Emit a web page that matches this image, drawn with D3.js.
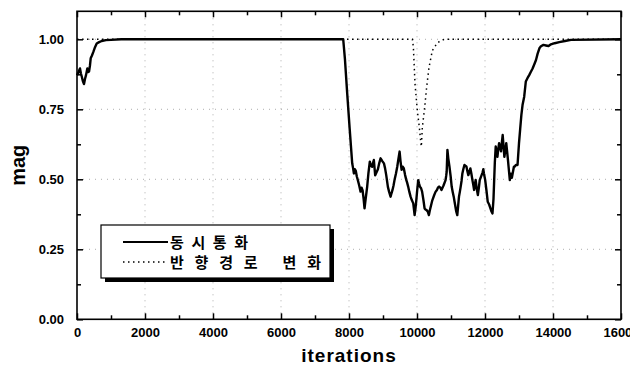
<!DOCTYPE html>
<html><head><meta charset="utf-8">
<script src="https://cdn.jsdelivr.net/npm/d3@7"></script>
<style>body{margin:0;background:#fff}svg{display:block}</style>
</head><body>
<svg id="c" width="630" height="369"></svg>
<script>
// ---- data ----
const xTicks = [0,2000,4000,6000,8000,10000,12000,14000,16000];
const yTicks = [0,0.25,0.5,0.75,1.0];
const seriesNames = ["동시통화","반향경로 변화"];
const solidIter = [0,50,88,115,138,170,206,235,265,304,330,354,380,403,440,481,530,580,650,727,850,1000,1300,7830,7880,7947,8020,8094,8120,8143,8170,8200,8230,8260,8300,8340,8370,8400,8430,8457,8490,8535,8570,8612,8645,8680,8705,8731,8770,8810,8850,8890,8929,8980,9027,9060,9095,9144,9180,9223,9250,9280,9310,9340,9380,9419,9450,9488,9515,9547,9580,9610,9650,9684,9710,9740,9775,9811,9850,9890,9930,9955,9980,10005,10036,10060,10085,10120,10150,10190,10223,10250,10280,10315,10350,10375,10400,10450,10507,10545,10586,10615,10650,10685,10720,10780,10840,10858,10873,10895,10920,10955,10990,11020,11050,11080,11105,11130,11154,11185,11210,11235,11260,11285,11311,11335,11360,11395,11430,11455,11480,11510,11537,11570,11600,11630,11655,11680,11700,11725,11753,11790,11820,11845,11870,11900,11930,11950,11970,12005,12043,12080,12122,12160,12191,12220,12250,12270,12289,12315,12340,12365,12387,12415,12440,12470,12495,12520,12544,12570,12600,12625,12650,12675,12701,12730,12760,12790,12820,12850,12870,12908,12957,13000,13035,13070,13104,13153,13200,13252,13300,13350,13400,13448,13500,13546,13600,13645,13720,13792,13870,13940,14050,14185,14350,14530,16000];
const solidVal = [0.872,0.885,0.896,0.878,0.868,0.852,0.84,0.858,0.872,0.896,0.883,0.885,0.905,0.932,0.942,0.955,0.972,0.985,0.99,0.994,0.997,0.998,1.0,1.0,0.93,0.807,0.68,0.557,0.54,0.521,0.536,0.53,0.51,0.497,0.478,0.456,0.47,0.46,0.43,0.396,0.43,0.474,0.52,0.563,0.548,0.545,0.558,0.569,0.514,0.525,0.536,0.558,0.575,0.565,0.557,0.54,0.515,0.473,0.455,0.438,0.45,0.462,0.478,0.498,0.52,0.545,0.57,0.599,0.565,0.534,0.545,0.54,0.515,0.498,0.488,0.474,0.455,0.438,0.425,0.414,0.372,0.395,0.426,0.46,0.497,0.485,0.474,0.468,0.456,0.425,0.396,0.392,0.39,0.385,0.372,0.388,0.40,0.425,0.444,0.455,0.462,0.47,0.474,0.47,0.462,0.478,0.497,0.512,0.527,0.605,0.575,0.545,0.51,0.474,0.455,0.438,0.42,0.402,0.385,0.372,0.405,0.438,0.455,0.474,0.495,0.521,0.535,0.551,0.548,0.545,0.53,0.515,0.525,0.539,0.52,0.497,0.48,0.462,0.48,0.498,0.47,0.444,0.47,0.497,0.505,0.515,0.525,0.536,0.52,0.498,0.46,0.42,0.41,0.396,0.385,0.378,0.43,0.497,0.56,0.617,0.6,0.58,0.605,0.629,0.615,0.60,0.63,0.658,0.62,0.58,0.605,0.629,0.6,0.569,0.535,0.497,0.52,0.505,0.525,0.545,0.545,0.551,0.551,0.629,0.68,0.73,0.765,0.795,0.849,0.862,0.872,0.884,0.896,0.91,0.926,0.948,0.968,0.975,0.98,0.978,0.976,0.982,0.986,0.99,0.994,0.998,1.0,1.0];
const dotIter = [0,9863,9893,9942,10010,10069,10108,10128,10157,10226,10285,10353,10452,10600,10796,16000];
const dotVal = [1.0,1.0,0.973,0.84,0.745,0.685,0.637,0.617,0.685,0.757,0.83,0.90,0.96,0.988,1.0,1.0];

// ---- drawing ----
const svg = d3.select("#c");
const x = d3.scaleLinear().domain([0,16000]).range([77,621]);
const y = d3.scaleLinear().domain([0,1.1]).range([319.3,11.3]);
const [x0,x1] = x.range(), [y0,y1] = y.range();

// grid
const g = svg.append("g").attr("stroke","#999").attr("stroke-width",0.8).attr("stroke-dasharray","1,5");
g.selectAll(".gx").data(xTicks.slice(1,-1)).join("line")
  .attr("x1",d=>x(d)).attr("x2",d=>x(d)).attr("y1",y0).attr("y2",y1);
g.selectAll(".gy").data(yTicks.slice(1)).join("line")
  .attr("x1",x0).attr("x2",x1).attr("y1",d=>y(d)).attr("y2",d=>y(d));

// lines
const line = d3.line().x(d=>x(d[0])).y(d=>y(d[1]));
svg.append("path").datum(dotIter.map((d,i)=>[d,dotVal[i]]))
  .attr("d",line).attr("fill","none").attr("stroke","#000").attr("stroke-width",1.5)
  .attr("stroke-dasharray","1.5,3.5");
svg.append("path").datum(solidIter.map((d,i)=>[d,solidVal[i]]))
  .attr("d",line).attr("fill","none").attr("stroke","#000").attr("stroke-width",2.4)
  .attr("stroke-linejoin","round");

// axes
const font = "Liberation Sans, Arial, sans-serif";
function styleAxis(sel){
  sel.select(".domain").remove();
  sel.selectAll("line").attr("stroke","#000").attr("stroke-width",1.5);
  sel.selectAll("text").attr("font-family",font).attr("font-size",13).attr("font-weight","bold").attr("fill","#000");
}
const xMinor = d3.range(1000,16000,2000);
const yMinor = [0.125,0.375,0.625,0.875];
svg.append("g").attr("transform",`translate(0,${y0})`)
  .call(d3.axisBottom(x).tickValues(xTicks).tickSize(-6).tickPadding(8).tickFormat(d3.format("d"))).call(styleAxis);
svg.append("g").attr("transform",`translate(0,${y0})`)
  .call(d3.axisBottom(x).tickValues(xMinor).tickSize(-4).tickFormat("")).call(styleAxis);
svg.append("g").attr("transform",`translate(0,${y1})`)
  .call(d3.axisTop(x).tickValues(xTicks).tickSize(-6).tickFormat("")).call(styleAxis);
svg.append("g").attr("transform",`translate(0,${y1})`)
  .call(d3.axisTop(x).tickValues(xMinor).tickSize(-4).tickFormat("")).call(styleAxis);
svg.append("g").attr("transform",`translate(${x0},0)`)
  .call(d3.axisLeft(y).tickValues(yTicks).tickSize(-6).tickPadding(13).tickFormat(d3.format(".2f"))).call(styleAxis);
svg.append("g").attr("transform",`translate(${x0},0)`)
  .call(d3.axisLeft(y).tickValues(yMinor).tickSize(-4).tickFormat("")).call(styleAxis);
svg.append("g").attr("transform",`translate(${x1},0)`)
  .call(d3.axisRight(y).tickValues(yTicks).tickSize(-6).tickFormat("")).call(styleAxis);
svg.append("g").attr("transform",`translate(${x1},0)`)
  .call(d3.axisRight(y).tickValues(yMinor).tickSize(-4).tickFormat("")).call(styleAxis);

// frame
svg.append("rect").attr("x",x0).attr("y",y1).attr("width",x1-x0).attr("height",y0-y1)
  .attr("fill","none").attr("stroke","#000").attr("stroke-width",1.6);

// axis titles
svg.append("text").attr("x",(x0+x1)/2).attr("y",362).attr("text-anchor","middle")
  .attr("font-family",font).attr("font-size",19).attr("font-weight","bold").attr("letter-spacing",1)
  .text("iterations");
svg.append("text").attr("transform",`translate(25,${(y0+y1)/2}) rotate(-90)`).attr("text-anchor","middle")
  .attr("font-family",font).attr("font-size",20).attr("font-weight","bold")
  .text("mag");

// legend
const L = {x:101,y:225,w:229,h:53};
svg.append("rect").attr("x",L.x+4).attr("y",L.y+4).attr("width",L.w).attr("height",L.h).attr("fill","#000");
svg.append("rect").attr("x",L.x).attr("y",L.y).attr("width",L.w).attr("height",L.h)
  .attr("fill","#fff").attr("stroke","#000").attr("stroke-width",1.2);
const styles = [{w:2.2,dash:null},{w:1.5,dash:"1.5,3.5"}];
seriesNames.forEach((name,i)=>{
  const yy = L.y + 17 + i*20;
  svg.append("line").attr("x1",L.x+22).attr("x2",L.x+67).attr("y1",yy).attr("y2",yy)
    .attr("stroke","#000").attr("stroke-width",styles[i].w).attr("stroke-dasharray",styles[i].dash);
  svg.append("text").attr("x",L.x+69).attr("y",yy+6)
    .attr("font-family","Noto Sans CJK KR").attr("font-size",15).attr("font-weight","bold")
    .attr("textLength", i===0?78:151).attr("lengthAdjust","spacing")
    .text(name);
});
</script>
</body></html>
